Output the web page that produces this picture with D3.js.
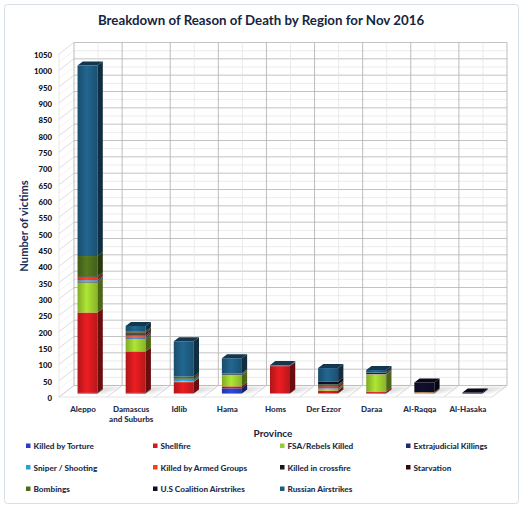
<!DOCTYPE html>
<html><head><meta charset="utf-8">
<script src="https://cdn.jsdelivr.net/npm/d3@7"></script>
<style>
html,body{margin:0;padding:0;background:#fff;}
svg{display:block;}
text{font-family:Lato,"Open Sans",sans-serif;font-weight:900;}
</style></head>
<body>
<svg id="chart" width="524" height="510"></svg>
<script>
const provinces = ["Aleppo","Damascus and Suburbs","Idlib","Hama","Homs","Der Ezzor","Daraa","Al-Raqqa","Al-Hasaka"];
const seriesNames = ["Killed by Torture","Shellfire","FSA/Rebels Killed","Extrajudicial Killings","Sniper / Shooting","Killed by Armed Groups","Killed in crossfire","Starvation","Bombings","U.S Coalition Airstrikes","Russian Airstrikes"];
const seriesColors = ["#2441c4","#d01a1e","#9acb2e","#24266e","#2a9fd8","#ff3a1c","#181818","#2e0a0a","#4c6c1c","#0e0e28","#1e5b80"];
const killedByTorture      = [2,   2,  1, 16,  1,  1,  2,  0, 0];
const shellfire            = [246, 127, 34, 6, 83,  8,  4,  1, 0];
const fsaRebelsKilled      = [92,  38,  3, 34,  0,  5, 52,  2, 0];
const extrajudicialKillings= [2,   2,   0,  0,  0,  0,  0,  0, 0];
const sniperShooting       = [5,   5,   4,  2,  2,  2,  1,  0, 0];
const killedByArmedGroups  = [10,  6,   2,  0,  0,  6,  1,  1, 0];
const killedInCrossfire    = [2,   4,   2,  2,  0,  3,  3,  0, 0];
const starvation           = [0,   3,   0,  0,  0,  0,  0,  0, 0];
const bombings             = [62,  4,   6,  2,  0,  3,  1,  0, 0];
const usCoalitionAirstrikes= [0,   0,   0,  0,  0,  8,  0, 30, 3];
const russianAirstrikes    = [583, 16, 108, 46, 1, 42,  8,  0, 0];
const yTicks = d3.range(0, 1051, 50);

const seriesValues = [killedByTorture,shellfire,fsaRebelsKilled,extrajudicialKillings,sniperShooting,killedByArmedGroups,killedInCrossfire,starvation,bombings,usCoalitionAirstrikes,russianAirstrikes];
const table = provinces.map((p,i)=>{const o={province:p}; seriesNames.forEach((s,j)=>o[s]=seriesValues[j][i]); return o;});
const stacked = d3.stack().keys(seriesNames)(table);

const svg = d3.select("#chart");
const defs = svg.append("defs");

svg.append("rect").attr("x",4.5).attr("y",4.5).attr("width",514).attr("height",499)
  .attr("rx",3).attr("fill","#fff").attr("stroke","#d6dee8").attr("stroke-width",1);

const DX = 15, DY = 11.5;
const x = d3.scaleBand().domain(provinces).range([59, 492]).paddingInner(0).paddingOuter(0);
const y = d3.scaleLinear().domain([0,1050]).range([397, 54]);
const P = (px, v, d) => [px + d*DX, y(v) - d*DY];
const line = (a,b,color,w) => svg.append("line").attr("x1",a[0]).attr("y1",a[1]).attr("x2",b[0]).attr("y2",b[1]).attr("stroke",color).attr("stroke-width",w||0.8);

const xL = x.range()[0], xR = x.range()[1], bw = x.bandwidth();
d3.range(0,1051,25).forEach(v=>{
  const major = v%50===0;
  line(P(xL,v,1),P(xR,v,1), major?"#bcbcbc":"#e4e4e4", major?0.9:0.7);
  line(P(xL,v,0),P(xL,v,1), major?"#cfcfcf":"#ececec", 0.7);
});
provinces.forEach((p,i)=>{
  const c = x(p)+bw/2;
  line(P(c,0,1),P(c,1050,1),"#e2e2e2",0.7);
});
d3.range(0,provinces.length+1).forEach(k=>{
  const bx = xL + k*bw;
  line(P(bx,0,1),P(bx,1050,1),"#b5b5b5",0.9);
  line(P(bx,0,0),P(bx,0,1),"#cfcfcf",0.8);
});
line(P(xL,0,0),P(xR,0,0),"#dcdcdc",0.8);
line(P(xL,0,0),P(xL,1050,0),"#e0e0e0",0.7);

seriesColors.forEach((c,j)=>{
  const g = defs.append("linearGradient").attr("id","g"+j).attr("x1","0").attr("x2","1").attr("y1","0").attr("y2","0");
  const base = d3.color(c);
  g.append("stop").attr("offset","0").attr("stop-color",base.darker(0.5));
  g.append("stop").attr("offset","0.45").attr("stop-color",base.brighter(0.35));
  g.append("stop").attr("offset","1").attr("stop-color",base.darker(0.35));
});
const sh = defs.append("filter").attr("id","blur").attr("x","-50%").attr("y","-50%").attr("width","200%").attr("height","200%");
sh.append("feGaussianBlur").attr("stdDeviation",1.6);

const d0 = 0.3, d1 = 0.65, barW = 20;
const poly = pts => pts.map(p=>p.join(",")).join(" ");
const bars = svg.append("g");
provinces.forEach((p,i)=>{
  const x0 = x(p) + (bw-barW)/2, x1 = x0 + barW;
  bars.append("polygon").attr("points",poly([P(x0+3,0,d0+0.05),P(x1+6,0,d0+0.05),P(x1+16,0,d1+0.25),P(x0+13,0,d1+0.25)]))
    .attr("fill","#000").attr("opacity",0.12).attr("filter","url(#blur)");
  let topIdx = -1;
  stacked.forEach((s,j)=>{ if (s[i][1]-s[i][0] > 0) topIdx = j; });
  stacked.forEach((s,j)=>{
    const v0 = s[i][0], v1 = s[i][1];
    if (v1 - v0 <= 0) return;
    const col = d3.color(seriesColors[j]);
    const f0 = P(x0,v1,d0), f1 = P(x1,v0,d0);
    bars.append("rect").attr("x",f0[0]).attr("y",f0[1]).attr("width",f1[0]-f0[0]).attr("height",f1[1]-f0[1])
      .attr("fill","url(#g"+j+")");
    bars.append("polygon").attr("points",poly([P(x1,v0,d0),P(x1,v0,d1),P(x1,v1,d1),P(x1,v1,d0)]))
      .attr("fill",col.darker(1.9));
    if (j===topIdx) {
      bars.append("polygon").attr("points",poly([P(x0,v1,d0),P(x1,v1,d0),P(x1,v1,d1),P(x0,v1,d1)]))
        .attr("fill",col.darker(1.4));
    }
  });
});

const yAxis = d3.axisLeft(y).tickValues(yTicks).tickFormat(d3.format("d")).tickSize(0).tickPadding(0);
const ya = svg.append("g").attr("transform","translate(52,1)").call(yAxis);
ya.select(".domain").remove();
ya.selectAll("text").attr("font-size",7.8).attr("fill","#111").style("font-family","Lato,sans-serif").style("font-weight","900");

const xa = svg.append("g");
provinces.forEach(p=>{
  const cx = x(p)+bw/2;
  const lines = p==="Damascus and Suburbs" ? ["Damascus","and Suburbs"] : [p];
  lines.forEach((t,k)=>{
    xa.append("text").attr("x",cx).attr("y",412+k*9.5).attr("text-anchor","middle")
      .attr("font-size",8).attr("fill","#1f3150").text(t);
  });
});

svg.append("text").attr("x",261).attr("y",25).attr("text-anchor","middle").attr("font-size",13.3).attr("fill","#16243e")
  .style("font-weight","bold").text("Breakdown of Reason of Death by Region for Nov 2016");
svg.append("text").attr("transform","translate(28,226) rotate(-90)").attr("text-anchor","middle").attr("font-size",11.2).attr("fill","#16305a")
  .style("font-weight","bold").text("Number of victims");
svg.append("text").attr("x",273).attr("y",437).attr("text-anchor","middle").attr("font-size",10).attr("fill","#16243e")
  .style("font-weight","bold").text("Province");

const legX = [26, 153, 280, 406], legY = [446, 467.5, 489];
const leg = svg.append("g");
seriesNames.forEach((s,j)=>{
  const col = j%4, row = Math.floor(j/4);
  const g = leg.append("g").attr("transform",`translate(${legX[col]},${legY[row]})`);
  g.append("rect").attr("x",0).attr("y",-2.5).attr("width",4.5).attr("height",4.5).attr("fill",seriesColors[j]);
  g.append("text").attr("x",7.5).attr("y",3).attr("font-size",8.2).attr("fill","#1f2f4a").text(s);
});
</script>
</body></html>
